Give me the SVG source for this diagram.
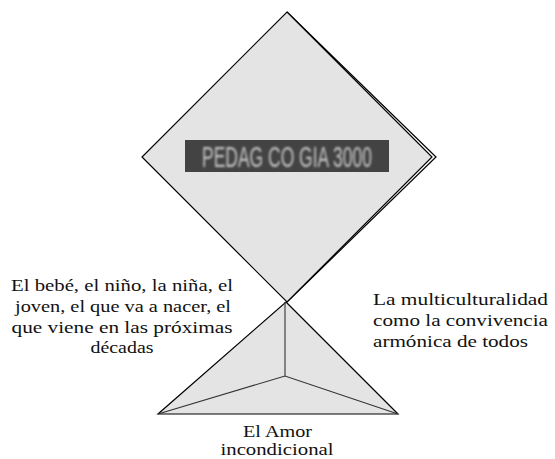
<svg xmlns="http://www.w3.org/2000/svg" width="555" height="459" viewBox="0 0 555 459">
<defs>
<filter id="blur" x="-5%" y="-20%" width="110%" height="140%"><feGaussianBlur stdDeviation="0.9"/></filter>
</defs>
<style>
.shape{fill:#e4e4e4;stroke:#000;stroke-width:1.2;stroke-linejoin:miter}
.line{fill:none;stroke:#000;stroke-width:1.2}
.inner{fill:none;stroke:#333;stroke-width:1.1}
.lbl{font-family:'Liberation Serif','DejaVu Serif','Times New Roman',serif;font-size:17px;fill:#111}
</style>
<rect width="555" height="459" fill="#fff"/>
<g id="diamond">
<path class="line" d="M287,12 L436,157 L287,302"/>
<polygon class="shape" points="287,12 432,157 287,302 142,157"/>
<rect x="185" y="140" width="204" height="32" fill="#434343"/>
<text x="287" y="167" text-anchor="middle" font-family="'Liberation Sans','DejaVu Sans',sans-serif" font-size="29" fill="#c4c4c4" textLength="170" lengthAdjust="spacingAndGlyphs" filter="url(#blur)">PEDAG CO GIA 3000</text>
</g>
<g id="pyramid">
<polygon class="shape" points="286,302 398,414 158,414"/>
<path class="inner" d="M285,302 L285,376 M158,414 L285,376 L398,414"/>
</g>
<g id="connectors"></g>
<g id="label-left">
<text class="lbl" font-family="'Liberation Serif','DejaVu Serif',serif" text-anchor="middle"><tspan x="122" y="291" textLength="222" lengthAdjust="spacingAndGlyphs">El bebé, el niño, la niña, el</tspan><tspan x="123" y="312" textLength="216" lengthAdjust="spacingAndGlyphs">joven, el que va a nacer, el</tspan><tspan x="122" y="333" textLength="221" lengthAdjust="spacingAndGlyphs">que viene en las próximas</tspan><tspan x="122" y="353" textLength="63" lengthAdjust="spacingAndGlyphs">décadas</tspan></text>
</g>
<g id="label-right">
<text class="lbl" font-family="'Liberation Serif','DejaVu Serif',serif"><tspan x="373" y="305" textLength="175" lengthAdjust="spacingAndGlyphs">La multiculturalidad</tspan><tspan x="373" y="326" textLength="175" lengthAdjust="spacingAndGlyphs">como la convivencia</tspan><tspan x="373" y="347" textLength="155" lengthAdjust="spacingAndGlyphs">armónica de todos</tspan></text>
</g>
<g id="label-bottom">
<text class="lbl" font-family="'Liberation Serif','DejaVu Serif',serif" text-anchor="middle"><tspan x="277.5" y="437" textLength="69" lengthAdjust="spacingAndGlyphs">El Amor</tspan><tspan x="277" y="455" textLength="113" lengthAdjust="spacingAndGlyphs">incondicional</tspan></text>
</g>
</svg>
